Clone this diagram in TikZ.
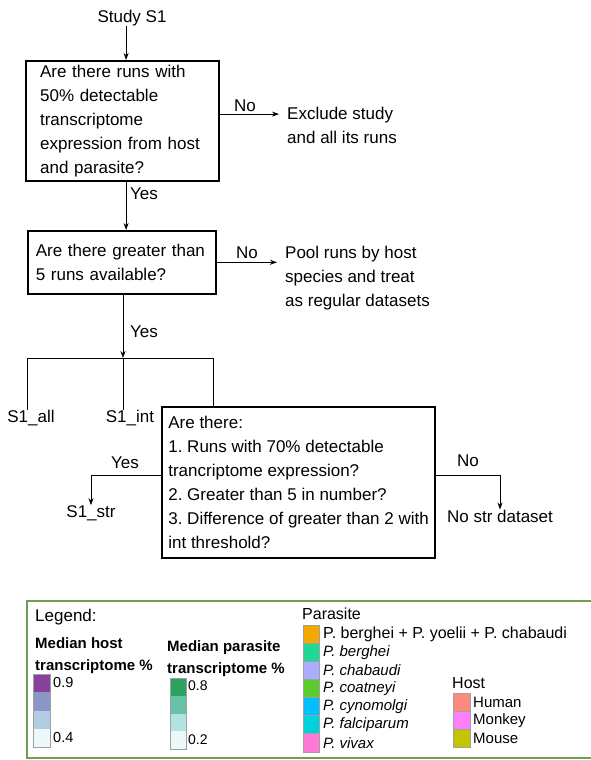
\documentclass[tikz,border=0pt]{standalone}
\usepackage{fontspec}
\setmainfont{Liberation Sans}
\usetikzlibrary{arrows.meta,calc}
\frenchspacing
\definecolor{legendgreen}{HTML}{6E9E52}
\definecolor{swgray}{HTML}{A0A0A0}
\definecolor{hA}{HTML}{88419D}
\definecolor{hB}{HTML}{8C96C6}
\definecolor{hC}{HTML}{B3CDE3}
\definecolor{hD}{HTML}{EDF8FB}
\definecolor{pA}{HTML}{2CA25F}
\definecolor{pB}{HTML}{66C2A4}
\definecolor{pC}{HTML}{B2E2E2}
\definecolor{pD}{HTML}{EDF8FB}
\definecolor{cOrange}{HTML}{F5A800}
\definecolor{cBerghei}{HTML}{1ED896}
\definecolor{cChabaudi}{HTML}{ADADFF}
\definecolor{cCoatneyi}{HTML}{5ACC2E}
\definecolor{cCyno}{HTML}{00BFFF}
\definecolor{cFalci}{HTML}{00D2DC}
\definecolor{cVivax}{HTML}{FF7AD4}
\definecolor{cHuman}{HTML}{FF8A7A}
\definecolor{cMonkey}{HTML}{FF80FF}
\definecolor{cMouse}{HTML}{C4C400}
\begin{document}
\frenchspacing
\begin{tikzpicture}[x=1pt,y=-1pt,
  every node/.style={font=\fontsize{17}{24}\selectfont\frenchspacing, inner sep=0pt},
  qbox/.style={draw, align=left, anchor=north west, inner ysep=0pt},
  plain/.style={align=left},
  arr/.style={line width=0.9pt, -{Stealth[length=7pt,width=5pt]}},
  ln/.style={line width=0.9pt},
  sw/.style={draw=swgray, line width=0.9pt},
  lgtext/.style={anchor=west, font=\fontsize{15}{18}\selectfont\frenchspacing},
  lghead/.style={anchor=west, font=\fontsize{16}{18}\selectfont},
  lgbold/.style={anchor=west, align=left, font=\bfseries\fontsize{15}{22}\selectfont},
  numlab/.style={anchor=west, font=\fontsize{14.5}{16}\selectfont}
]
\useasboundingbox (0,0) rectangle (590,760);

% ---- flowchart ----
\node (study) at (132,18) {Study S1};

\node[qbox, line width=2.2pt, minimum width=193pt, minimum height=120pt,
      text width=165pt, inner xsep=14pt] (b1) at (25,60)
  {Are there runs with\\50\% detectable\\transcriptome\\expression from host\\and parasite?};

\coordinate (a1) at ($(b1.north)+(3.5,0)$);
\draw[arr] (study.south -| a1) -- (a1);

\node[plain, anchor=west, inner xsep=8pt] (excl) at (279,125) {Exclude study\\and all its runs};
\draw[arr] ([yshift=7pt]b1.east) -- ([yshift=7pt]b1.east -| excl.west);
\node (no1) at (245,106) {No};

\node[qbox, line width=1.6pt, minimum width=188pt, minimum height=63pt,
      text width=172pt, inner xsep=8pt] (b2) at (27,230)
  {Are there greater than\\5 runs available?};

\coordinate (a2) at ($(b1.south)+(3.5,0)$);
\draw[arr] (a2) -- (a2 |- b2.north);
\node (yes1) at (144,194) {Yes};

\node[plain, anchor=west, inner xsep=8pt] (pool) at (277,278)
  {Pool runs by host\\species and treat\\as regular datasets};
\draw[arr] (b2.east) -- (b2.east -| pool.west);
\node (no2) at (247,253) {No};

\coordinate (jl) at (27,358);
\coordinate (jm) at (123,358);
\coordinate (jr) at (213,358);
\draw[arr] (b2.south -| jm) -- (jm);
\node (yes2) at (144,332) {Yes};
\draw[ln] (jl) -- (jr);

\node (all) at (31,418) {S1\_all};
\node (int) at (130,418) {S1\_int};
\draw[ln] (jl) -- (jl |- all.north);
\draw[ln] (jm) -- (jm |- int.north);

\node[qbox, line width=2.2pt, minimum width=273pt, minimum height=151pt] (b3) at (161,406)
  {Are there:\\1. Runs with 70\% detectable\\trancriptome expression?\\2. Greater than 5 in number?\\3. Difference of greater than 2 with\\int threshold?};
\draw[ln] (jr) -- (jr |- b3.north);

\node (str) at (91,513) {S1\_str};
\draw[arr] ([yshift=7.5pt]b3.west) -| (str.north);
\node (yes3) at (125,463) {Yes};

\node (nostr) at (500,516) {No str dataset};
\draw[arr] ([yshift=7.5pt]b3.east) -| (nostr.north);
\node (no3) at (468,461) {No};

% ---- legend ----
\draw[draw=legendgreen, line width=1.2pt] (27,601) rectangle (600,758);
\node[lghead, font=\fontsize{17}{18}\selectfont] (lgt) at (35,617) {Legend:};
\node[lgbold] (mh) at (35,656) {Median host\\transcriptome \%};
\node[lgbold] (mp) at (167,658.5) {Median parasite\\transcriptome \%};

% host colour bar
\fill[hA] (33,674) rectangle (50,692.25);
\fill[hB] (33,692.25) rectangle (50,710.5);
\fill[hC] (33,710.5) rectangle (50,728.75);
\fill[hD] (33,728.75) rectangle (50,747);
\draw[sw] (33,674) rectangle (50,747);
\node[numlab] (h09) at (53,682) {0.9};
\node[numlab] (h04) at (53,737) {0.4};

% parasite colour bar
\fill[pA] (170,678) rectangle (186,695.75);
\fill[pB] (170,695.75) rectangle (186,713.5);
\fill[pC] (170,713.5) rectangle (186,731.25);
\fill[pD] (170,731.25) rectangle (186,749);
\draw[sw] (170,678) rectangle (186,749);
\node[numlab, font=\fontsize{14}{16}\selectfont] (p08) at (188,686) {0.8};
\node[numlab, font=\fontsize{14}{16}\selectfont] (p02) at (188,740) {0.2};

% parasite species
\node[lghead] (parh) at (302,614) {Parasite};
\foreach \c/\t [count=\i from 0] in {cOrange/{\fontsize{16}{18}\selectfont P. berghei + P. yoelii + P. chabaudi},
    cBerghei/{\itshape P. berghei}, cChabaudi/{\itshape P. chabaudi},
    cCoatneyi/{\itshape P. coatneyi}, cCyno/{\itshape P. cynomolgi},
    cFalci/{\itshape P. falciparum}, cVivax/{\itshape P. vivax}} {
  \filldraw[sw, fill=\c] (303,625+18.14*\i) rectangle (319,625+18.14*\i+18.14);
  \node[lgtext] (par\i) at (323,634+18.14*\i) {\t};
}

% host species
\node[lghead] (hosth) at (452,683) {Host};
\foreach \c/\t [count=\i from 0] in {cHuman/Human, cMonkey/Monkey, cMouse/Mouse} {
  \filldraw[sw, fill=\c] (453,693+18.3*\i) rectangle (470,693+18.3*\i+18.3);
  \node[lgtext] (host\i) at (473,702+18.3*\i) {\t};
}
\end{tikzpicture}
\end{document}
